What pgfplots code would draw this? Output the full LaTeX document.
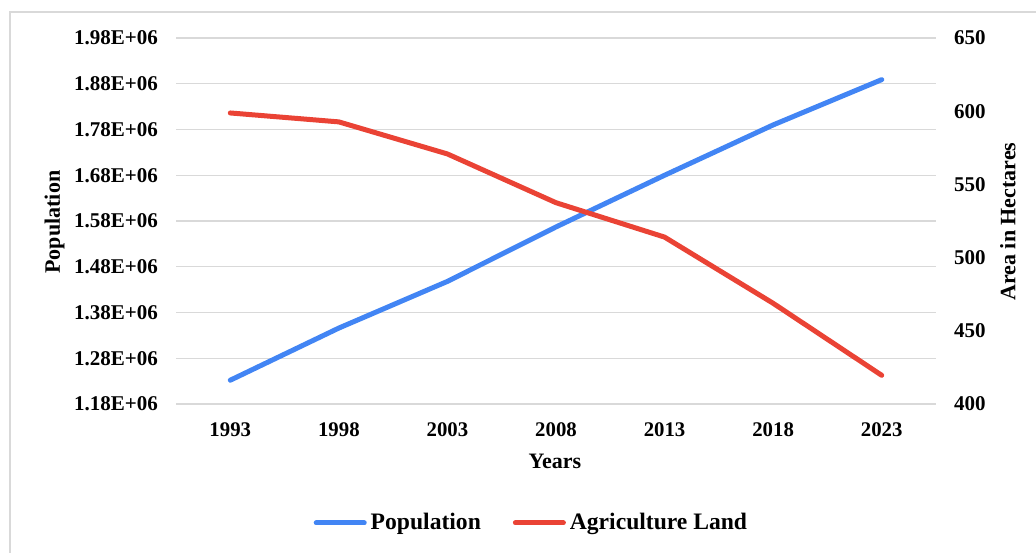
\documentclass[border=0pt]{standalone}
\usepackage{pgfplots}
\pgfplotsset{compat=1.18}
\usepackage{fontspec}
\setmainfont{Liberation Serif}
\definecolor{popblue}{RGB}{66,133,244}
\definecolor{agred}{RGB}{234,67,53}
\definecolor{gridgray}{RGB}{217,217,217}
\begin{document}
\begin{tikzpicture}
\useasboundingbox (0,0) rectangle (518pt,276pt);
\draw[gridgray, line width=0.8pt] (5pt,-10pt) rectangle (530pt,270pt);
\begin{axis}[
  at={(88pt,74pt)}, anchor=south west,
  scale only axis, width=380pt, height=183pt,
  xmin=-0.5, xmax=6.5,
  ymin=1180000, ymax=1980000,
  xtick={0,1,2,3,4,5,6},
  xticklabels={1993,1998,2003,2008,2013,2018,2023},
  ytick={1180000,1280000,1380000,1480000,1580000,1680000,1780000,1880000,1980000},
  yticklabels={1.18E+06,1.28E+06,1.38E+06,1.48E+06,1.58E+06,1.68E+06,1.78E+06,1.88E+06,1.98E+06},
  ymajorgrids, grid style={gridgray, line width=0.6pt},
  axis line style={draw=none},
  major tick length=0pt,
  scaled y ticks=false,
  yticklabel style={font=\bfseries\fontsize{10.5}{11}\selectfont, xshift=-5.5pt},
  xticklabel style={font=\bfseries\fontsize{10.4}{11}\selectfont, yshift=-6pt},
  xlabel={Years}, ylabel={Population},
  every axis x label/.style={at={(axis description cs:0.4987,-0.1577)}, anchor=center, font=\bfseries\fontsize{11}{12}\selectfont},
  every axis y label/.style={at={(axis description cs:-0.1599,0.497)}, anchor=center, rotate=90, font=\bfseries\fontsize{11}{12}\selectfont},
]
\addplot[popblue, line width=2.5pt, line cap=round] coordinates {
 (0,1232000) (1,1346000) (2,1448000) (3,1567000) (4,1680000) (5,1790000) (6,1889000)};
\end{axis}
\begin{axis}[
  at={(88pt,74pt)}, anchor=south west,
  scale only axis, width=380pt, height=183pt,
  xmin=-0.5, xmax=6.5,
  ymin=400, ymax=650,
  axis x line=none,
  axis y line*=right,
  axis line style={draw=none},
  major tick length=0pt,
  ytick={400,450,500,550,600,650},
  yticklabels={400,450,500,550,600,650},
  yticklabel style={font=\bfseries\fontsize{10.5}{11}\selectfont, xshift=5.5pt},
  ylabel={Area in Hectares},
  every axis y label/.style={at={(axis description cs:1.0947,0.4986)}, anchor=center, rotate=90, font=\bfseries\fontsize{11}{12}\selectfont},
  legend style={at={(axis description cs:0.469,-0.325)}, anchor=center, draw=none, legend columns=2, font=\bfseries\fontsize{11.8}{14}\selectfont, /tikz/every even column/.append style={column sep=14pt}},
  legend image code/.code={\draw[#1, line cap=round] (0cm,0cm) -- (24pt,0cm);},
]
\addlegendimage{popblue, line width=2.5pt}
\addlegendentry{Population}
\addplot[agred, line width=2.5pt, line cap=round] coordinates {
 (0,598.8) (1,592.7) (2,570.8) (3,537.5) (4,514) (5,468.8) (6,419.6)};
\addlegendentry{Agriculture Land}
\end{axis}
\end{tikzpicture}
\end{document}
